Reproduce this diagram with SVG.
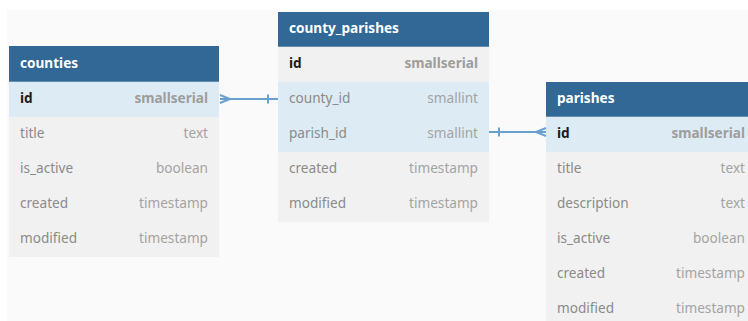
<svg xmlns="http://www.w3.org/2000/svg" width="748" height="321" viewBox="0 0 748 321">
<style>
.hd{fill:#316896}
.hl{fill:#ffffff;fill-opacity:0.25}
.title{font-family:"Noto Sans","Open Sans",sans-serif;font-size:13.6px;font-weight:bold;fill:#ffffff}
.rn{fill:#f1f1f1}
.rh{fill:#ddebf4}
.nm{font-family:"Noto Sans","Open Sans",sans-serif;font-size:13.6px;fill:#8a8a8a}
.pk{font-family:"Noto Sans","Open Sans",sans-serif;font-size:13.6px;font-weight:bold;fill:#1c1c1c}
.ty{font-family:"Noto Sans","Open Sans",sans-serif;font-size:13.6px;fill:#a3a3a3;text-anchor:end}
.tyb{font-family:"Noto Sans","Open Sans",sans-serif;font-size:13.6px;font-weight:bold;fill:#9d9d9d;text-anchor:end}
.ln{stroke:#6b9fd0;stroke-width:2;fill:none}
</style>
<rect x="0" y="0" width="748" height="321" fill="#ffffff"/>
<rect x="7" y="10" width="741" height="311" fill="#fafafa"/>

<g id="counties">
<rect class="hd" x="9" y="46" width="210" height="36"/>
<rect class="hl" x="9" y="81" width="210" height="1"/>
<text class="title" x="20" y="68">counties</text>
<rect class="rh" x="9" y="82" width="210" height="35"/>
<rect class="rn" x="9" y="117" width="210" height="140"/>
<text class="pk" x="20" y="103">id</text><text class="tyb" x="208" y="103">smallserial</text>
<text class="nm" x="20" y="138">title</text><text class="ty" x="208" y="138">text</text>
<text class="nm" x="20" y="173">is_active</text><text class="ty" x="208" y="173">boolean</text>
<text class="nm" x="20" y="208">created</text><text class="ty" x="208" y="208">timestamp</text>
<text class="nm" x="20" y="243">modified</text><text class="ty" x="208" y="243">timestamp</text>
</g>

<g id="county_parishes">
<rect class="hd" x="278" y="12" width="211" height="35"/>
<rect class="hl" x="278" y="46" width="211" height="1"/>
<text class="title" x="289" y="33">county_parishes</text>
<rect class="rn" x="278" y="47" width="211" height="35"/>
<rect class="rh" x="278" y="82" width="211" height="70"/>
<rect class="rn" x="278" y="152" width="211" height="70"/>
<text class="pk" x="289" y="68">id</text><text class="tyb" x="478" y="68">smallserial</text>
<text class="nm" x="289" y="103">county_id</text><text class="ty" x="478" y="103">smallint</text>
<text class="nm" x="289" y="138">parish_id</text><text class="ty" x="478" y="138">smallint</text>
<text class="nm" x="289" y="173">created</text><text class="ty" x="478" y="173">timestamp</text>
<text class="nm" x="289" y="208">modified</text><text class="ty" x="478" y="208">timestamp</text>
</g>

<g id="parishes">
<rect class="hd" x="546" y="82" width="202" height="35"/>
<rect class="hl" x="546" y="116" width="202" height="1"/>
<text class="title" x="557" y="103">parishes</text>
<rect class="rh" x="546" y="117" width="202" height="35"/>
<rect class="rn" x="546" y="152" width="202" height="169"/>
<text class="pk" x="557" y="138">id</text><text class="tyb" x="745" y="138">smallserial</text>
<text class="nm" x="557" y="173">title</text><text class="ty" x="745" y="173">text</text>
<text class="nm" x="557" y="208">description</text><text class="ty" x="745" y="208">text</text>
<text class="nm" x="557" y="243">is_active</text><text class="ty" x="745" y="243">boolean</text>
<text class="nm" x="557" y="278">created</text><text class="ty" x="745" y="278">timestamp</text>
<text class="nm" x="557" y="313">modified</text><text class="ty" x="745" y="313">timestamp</text>
</g>

<g id="connectors">
<path class="ln" d="M220 99 H278"/>
<path class="ln" d="M220 95 L230 99 L220 103"/>
<path class="ln" d="M268 94.5 V103.5"/>
<path class="ln" d="M489 132 H546"/>
<path class="ln" d="M546 128 L536 132 L546 136"/>
<path class="ln" d="M499 127.5 V136.5"/>
</g>
</svg>
